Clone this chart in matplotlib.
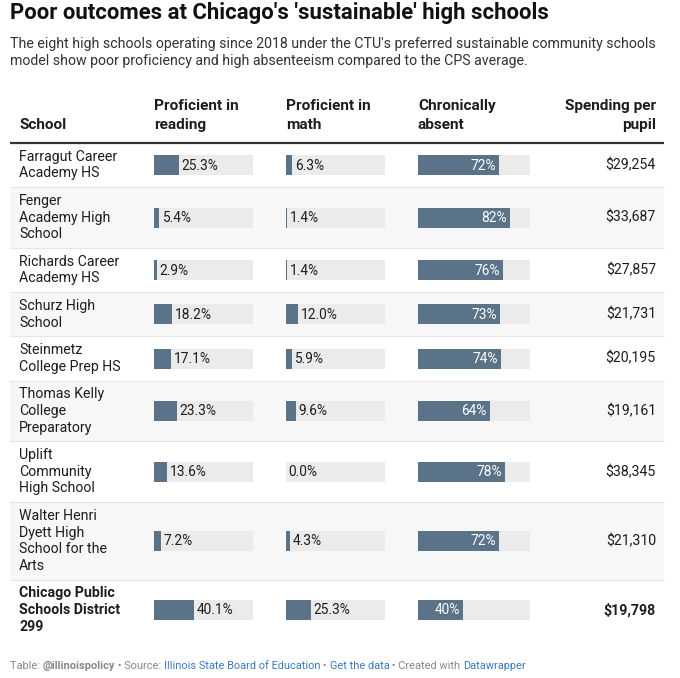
import matplotlib.pyplot as plt

plt.rcParams['font.family'] = ['Roboto', 'DejaVu Sans']

schools = ["Farragut Career\nAcademy HS",
           "Fenger\nAcademy High\nSchool",
           "Richards Career\nAcademy HS",
           "Schurz High\nSchool",
           "Steinmetz\nCollege Prep HS",
           "Thomas Kelly\nCollege\nPreparatory",
           "Uplift\nCommunity\nHigh School",
           "Walter Henri\nDyett High\nSchool for the\nArts",
           "Chicago Public\nSchools District\n299"]
reading = [25.3, 5.4, 2.9, 18.2, 17.1, 23.3, 13.6, 7.2, 40.1]
math = [6.3, 1.4, 1.4, 12.0, 5.9, 9.6, 0.0, 4.3, 25.3]
absent = [72, 82, 76, 73, 74, 64, 78, 72, 40]
spending = [29254, 33687, 27857, 21731, 20195, 19161, 38345, 21310, 19798]

title = "Poor outcomes at Chicago's 'sustainable' high schools"
subtitle = ["The eight high schools operating since 2018 under the CTU's preferred sustainable community schools",
            "model show poor proficiency and high absenteeism compared to the CPS average."]

BAR = '#5a7388'
BG = '#ebebeb'
TXT = '#1d1d1d'

W, H = 680, 678
fig = plt.figure(figsize=(W / 100, H / 100), dpi=100)
ax = fig.add_axes([0, 0, 1, 1])
ax.set_xlim(0, W)
ax.set_ylim(H, 0)
ax.axis('off')

fs = 10.2
line_h = 16.6

ax.text(10, 13, title, fontsize=15.9, fontweight='bold', color='#111111', va='center')
for i, s in enumerate(subtitle):
    ax.text(10, 44 + i * 17, s, fontsize=10.15, color='#333333', va='center')

# header
hdr = dict(fontsize=11.1, fontweight='bold', color=TXT, va='center')
ax.text(19, 125, "School", **hdr)
ax.text(154, 106, "Proficient in", **hdr)
ax.text(154, 125, "reading", **hdr)
ax.text(286, 106, "Proficient in", **hdr)
ax.text(286, 125, "math", **hdr)
ax.text(418, 106, "Chronically", **hdr)
ax.text(418, 125, "absent", **hdr)
ax.text(656, 106, "Spending per", ha='right', **hdr)
ax.text(656, 125, "pupil", ha='right', **hdr)
ax.plot([10, 664], [143, 143], color='#333333', lw=1.6, solid_capstyle='butt')

# columns: (values, left, pixel width of 100%)
cols = [(reading, 154, 99), (math, 286, 99), (absent, 418, 112)]

top = 143
n = len(schools)
for i in range(n):
    lines = schools[i].split('\n')
    h = 11 + line_h * len(lines)
    yc = top + h / 2
    last = i == n - 1
    if i % 2 == 1:
        ax.axhspan(top, top + h, xmin=10 / W, xmax=664 / W, color='#f7f7f7', lw=0, zorder=0)
    if not last:
        ax.plot([10, 664], [top + h, top + h], color='#e6e6e6', lw=0.8, zorder=1)
    weight = 'bold' if last else 'normal'
    y0 = yc - line_h * (len(lines) - 1) / 2
    for k, ln in enumerate(lines):
        ax.text(19, y0 + k * line_h, ln, fontsize=fs, fontweight=weight, color=TXT, va='center')

    for j, (vals, left, scale) in enumerate(cols):
        v = vals[i]
        ax.barh(yc, scale, left=left, height=20, color=BG, lw=0, zorder=2)
        ax.barh(yc, v * scale / 100, left=left, height=20, color=BAR, lw=0, zorder=3)
        if j < 2:
            ax.text(left + v * scale / 100 + 2.5, yc + 0.5, f"{v:.1f}%", fontsize=9.9,
                    color=TXT, va='center', zorder=4)
        else:
            ax.text(left + v * scale / 100 - 3, yc + 0.5, f"{v:.0f}%", fontsize=9.9,
                    color='white', va='center', ha='right', zorder=4)
    ax.text(656, yc, f"${spending[i]:,}", fontsize=fs, fontweight=weight, color=TXT,
            va='center', ha='right')
    top += h

# footer with mixed colours
footer = [("Table: ", '#888888', 'normal'), ("@illinoispolicy", '#888888', 'bold'),
          (" \u2022 Source: ", '#888888', 'normal'),
          ("Illinois State Board of Education", '#3a7bbf', 'normal'),
          (" \u2022 ", '#888888', 'normal'), ("Get the data", '#3a7bbf', 'normal'),
          (" \u2022 Created with ", '#888888', 'normal'), ("Datawrapper", '#3a7bbf', 'normal')]
fig.canvas.draw()
r = fig.canvas.get_renderer()
x = 10
for s, c, wgt in footer:
    t = ax.text(x, 666, s, fontsize=7.9, color=c, fontweight=wgt, va='center')
    bb = t.get_window_extent(renderer=r)
    x += bb.width

fig.savefig('out.png', dpi=100, facecolor='white')
